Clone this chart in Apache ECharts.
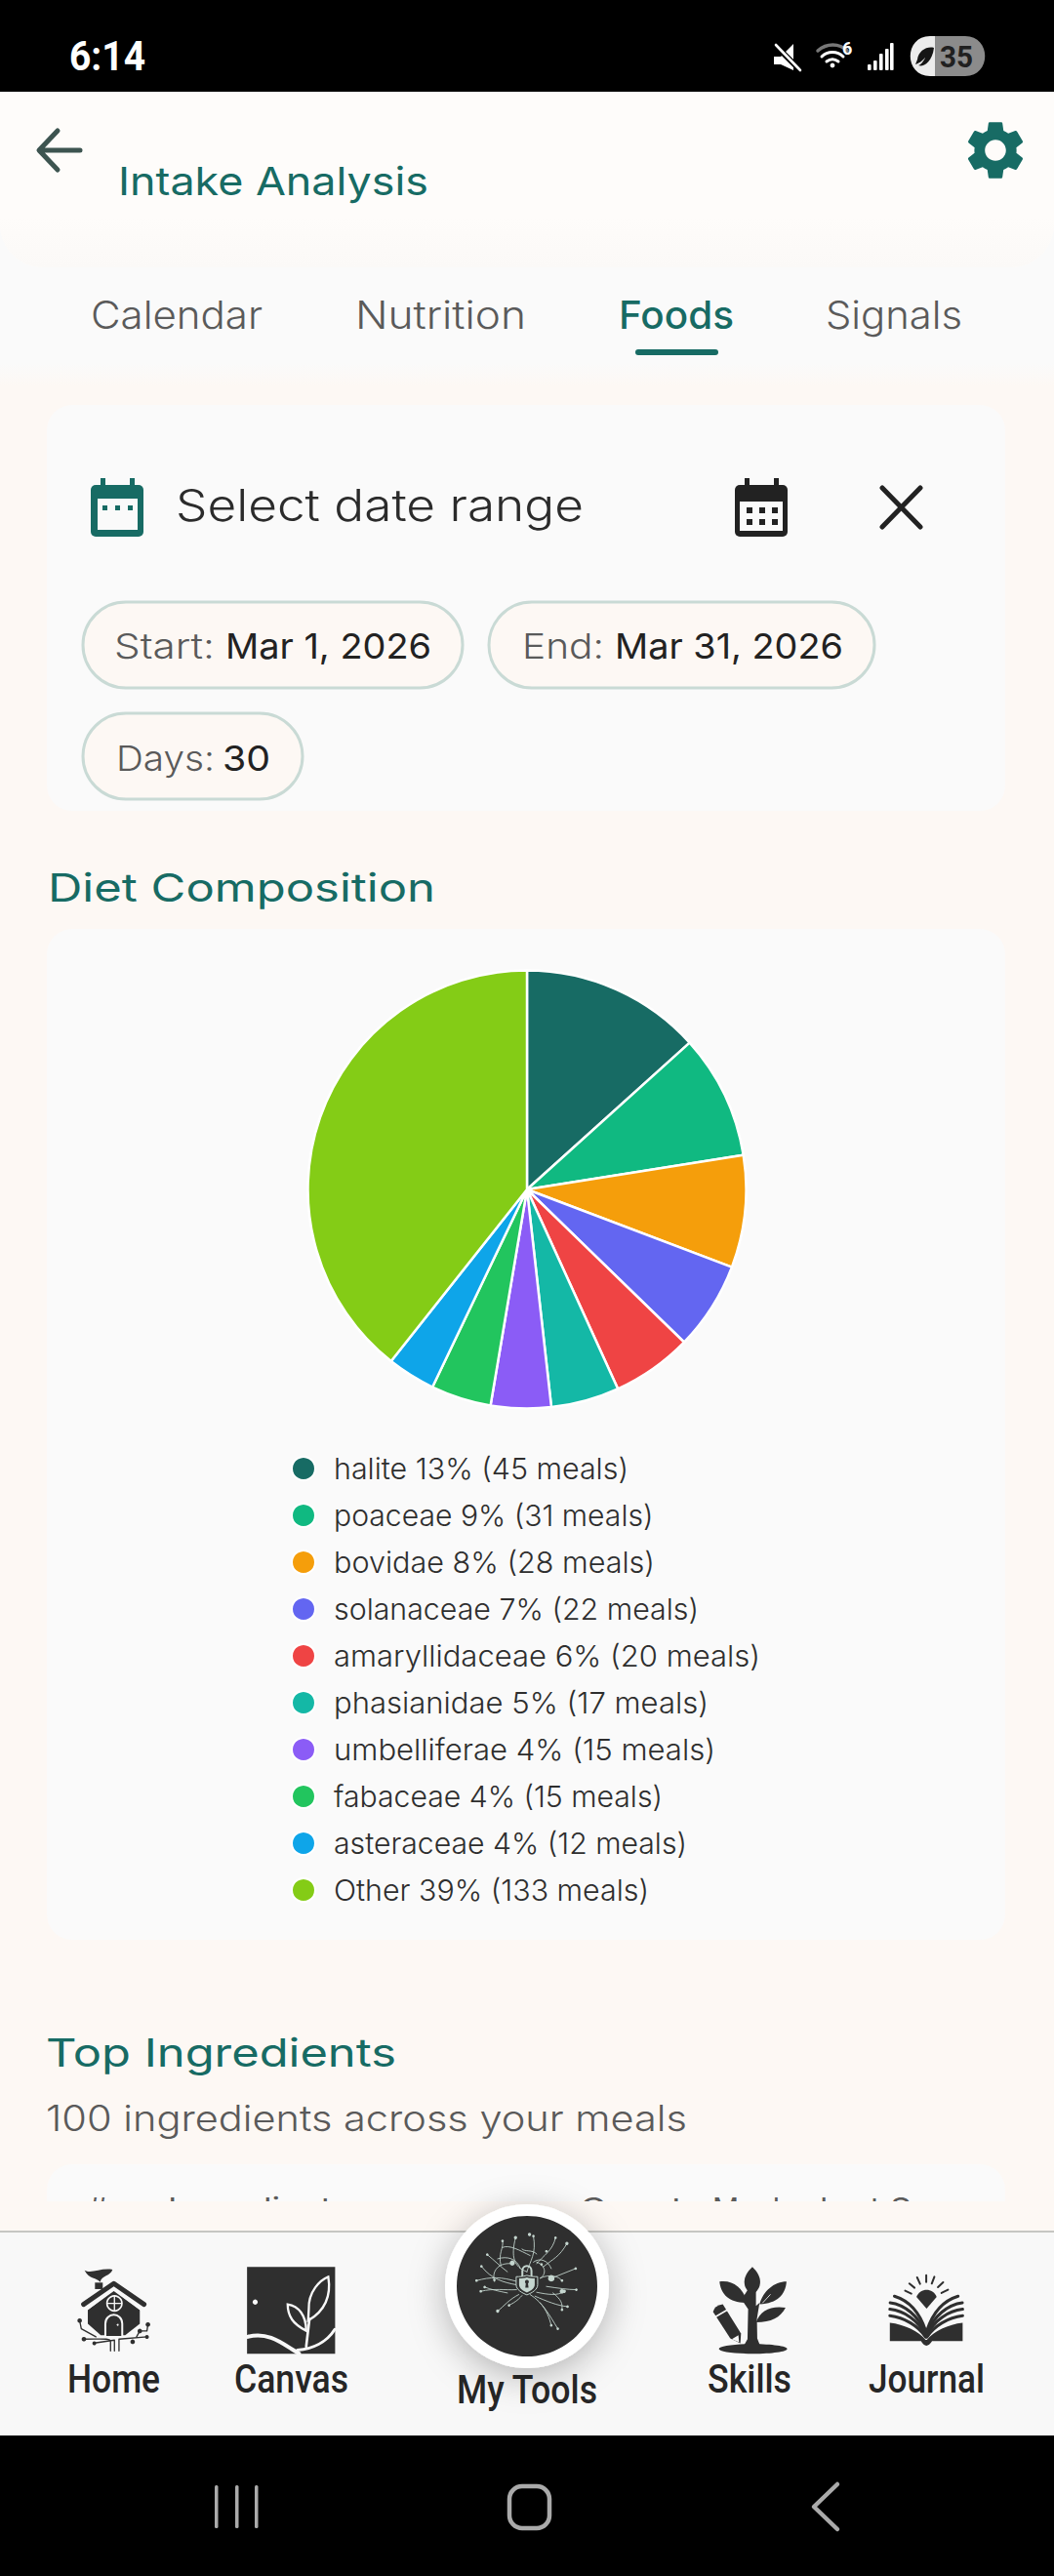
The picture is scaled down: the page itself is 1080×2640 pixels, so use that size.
<!DOCTYPE html>
<html><head><meta charset="utf-8">
<style>html,body{margin:0;padding:0;background:#fdf8f4}#c{width:1080px;height:2640px}</style>
<script src="https://cdn.jsdelivr.net/npm/echarts@6/dist/echarts.min.js"></script>
</head><body><div id="c"></div>
<script>
const categories=['halite','poaceae','bovidae','solanaceae','amaryllidaceae','phasianidae','umbelliferae','fabaceae','asteraceae','Other'];
const meals=[45,31,28,22,20,17,15,15,12,133];
const percents=[13,9,8,7,6,5,4,4,4,39];
const sliceColors=['#176b64','#10b981','#f59e0b','#6366f1','#ef4444','#14b8a6','#8b5cf6','#22c55e','#0ea5e9','#84cc16'];
const legendWidths=[302,327.5,329,374,437,384,391,337,362,323];

const UI='Inter, "Noto Sans", sans-serif', RB='Roboto, sans-serif';
const TEAL='#176b64', DARK='#2f2f2f', INK='#2b2b2b', GRAY='#5a5a5a', CREAM='#fdf8f4', PANEL='#fafafa', MINT='#c5d6cf';
const fit={};
let shapeId=0;
function t(text,x,base,size,color,opt){opt=opt||{};
  if(opt.w)fit[text]=opt.w;
  return {type:'text',z:opt.z||5,silent:true,style:{text,x,y:base-(opt.k||0.36)*size,fill:color,verticalAlign:'middle',align:'left',
    font:(opt.weight||400)+' '+size+'px '+(opt.font||UI)}};
}
function rect(x,y,w,h,fill,r,opt){opt=opt||{};return {type:'rect',z:opt.z||1,silent:true,shape:{x,y,width:w,height:h,r:r||0},style:Object.assign({fill},opt.style||{})};}
function circ(cx,cy,r,fill,opt){opt=opt||{};return {type:'circle',z:opt.z||2,silent:true,shape:{cx,cy,r},style:Object.assign({fill},opt.style||{})};}
function p(d,style,z){const name='uipath'+(shapeId++);echarts.graphic.registerShape(name,echarts.graphic.extendPath(d,{}));return {type:name,z:z||3,silent:true,style:style};}
function sl(d,c,w){return p(d,{fill:'none',stroke:c,lineWidth:w,lineCap:'round',lineJoin:'round'});}
function fl(d,c){return p(d,{fill:c});}
function grp(x,y,s,children,z){children.forEach(c=>{c.z=z||c.z;});return {type:'group',x,y,scaleX:s,scaleY:s,silent:true,children};}

const g=[];
// page backgrounds
g.push(rect(0,94,1080,296,PANEL,0,{z:0}));
g.push(rect(0,372,1080,24,'#fff',0,{z:0,style:{fill:{type:'linear',x:0,y:0,x2:0,y2:1,colorStops:[{offset:0,color:PANEL},{offset:1,color:CREAM}]}}}));
g.push(rect(0,94,1080,180,'#fefcfa',[0,0,44,44],{z:0}));
g.push(rect(0,222,1080,52,'#fff',[0,0,44,44],{z:0,style:{fill:{type:'linear',x:0,y:0,x2:0,y2:1,colorStops:[{offset:0,color:'#fefcfa'},{offset:1,color:'#fbf9f7'}]}}}));
g.push(rect(0,0,1080,94,'#000',0,{z:0}));
// status bar
g.push(t('6:14',71,72,42,'#fff',{font:RB,weight:700,w:78,k:.34}));
g.push(fl('M793 58L800 58L813 45L813 72L800 66L793 66Z','#fff'));
g.push(sl('M795 47L820 72','#000',6)); g.push(sl('M795 46L820 72','#fff',2.6));
g.push(sl('M838 52C847 44 860 44 868 52','#777',3.5));
g.push(sl('M842 58C848 52 858 52 864 58','#fff',3));
g.push(sl('M847 63C851 60 855 60 859 63','#fff',3));
g.push(circ(853,67,2.4,'#fff'));
g.push(t('6',863,56,18,'#fff',{font:RB,weight:700}));
[[889,66],[895,62],[901,55],[907,50],[912,44]].forEach(b=>g.push(rect(b[0],b[1],3.6,72-b[1],'#fff',1,{z:3})));
g.push(p('M958 37L953 37C926 37 926 78 953 78L958 78Z',{fill:'#ececec'}));
g.push(p('M958 37L989 37C1016 37 1016 78 989 78L958 78Z',{fill:'#8b8b8b'}));
g.push(fl('M938 66C944 64 946 61 948 59C947 62 943 67 941 67C945 69 955 65 957 49C950 47 941 52 940 61Z','#151515'));
g.push(t('35',963,69,31,'#202020',{font:RB,weight:700,k:.34,w:34}));
// header
g.push(sl('M82 154L41 154M59 134L40 154L59 174','#3d5450',5));
g.push(t('Intake Analysis',121,200,40,TEAL,{w:318}));
g.push(grp(984,118,3,[fl('M19.14 12.94c.04-.3.06-.61.06-.94 0-.32-.02-.64-.07-.94l2.03-1.58c.18-.14.23-.41.12-.61l-1.92-3.32c-.12-.22-.37-.29-.59-.22l-2.39.96c-.5-.38-1.03-.7-1.62-.94l-.36-2.54c-.04-.24-.24-.41-.48-.41h-3.84c-.24 0-.43.17-.47.41l-.36 2.54c-.59.24-1.13.57-1.62.94l-2.39-.96c-.22-.08-.47 0-.59.22L2.74 8.87c-.12.21-.08.47.12.61l2.03 1.58c-.05.3-.09.63-.09.94s.02.64.07.94l-2.03 1.58c-.18.14-.23.41-.12.61l1.92 3.32c.12.22.37.29.59.22l2.39-.96c.5.38 1.03.7 1.62.94l.36 2.54c.05.24.24.41.48.41h3.84c.24 0 .44-.17.47-.41l.36-2.54c.59-.24 1.13-.56 1.62-.94l2.39.96c.22.08.47 0 .59-.22l1.92-3.32c.12-.22.07-.47-.12-.61l-2.01-1.58zM12 15.6c-1.98 0-3.6-1.62-3.6-3.6s1.62-3.6 3.6-3.6 3.6 1.62 3.6 3.6-1.62 3.6-3.6 3.6z',TEAL)],3));
// tabs
g.push(t('Calendar',93,337,39,GRAY,{w:176,weight:300}));
g.push(t('Nutrition',364,337,39,GRAY,{w:175,weight:300}));
g.push(t('Foods',634,337,39,TEAL,{w:118,weight:450}));
g.push(t('Signals',846,337,39,GRAY,{w:140,weight:300}));
g.push(rect(651,358,85,6,TEAL,3,{z:3}));
// date card
g.push(rect(48,415,982,416,PANEL,26));
g.push(rect(93,497,54,53,TEAL,5,{z:2})); g.push(rect(103,490,5,10,TEAL,0,{z:2})); g.push(rect(133,490,5,10,TEAL,0,{z:2}));
g.push(rect(100,511,41,32,PANEL,0,{z:3}));
[105,118,131].forEach(x=>g.push(rect(x,518,5,5,TEAL,0,{z:4})));
g.push(t('Select date range',180,533.6,45,INK,{w:418,weight:300}));
g.push(rect(753,497,54,53,'#222',5,{z:2})); g.push(rect(763,490,5,10,'#222',0,{z:2})); g.push(rect(793,490,5,10,'#222',0,{z:2}));
g.push(rect(758,514,44,30,PANEL,0,{z:3}));
[765,778,791].forEach(x=>[520,532].forEach(y=>g.push(rect(x,y,6,6,'#222',0,{z:4}))));
g.push(sl('M904 500L943 540M943 500L904 540','#222',5));
const chip={z:2,style:{stroke:'#c9dad5',lineWidth:3}};
g.push(rect(85,617,389,88,CREAM,44,chip)); g.push(rect(501,617,395,88,CREAM,44,chip)); g.push(rect(85,731,225,88,CREAM,44,chip));
g.push(t('Start:',117,675,36,GRAY,{w:103,weight:300}));
g.push(t('Mar 1, 2026',231,675,36,'#222',{weight:420,w:211}));
g.push(t('End:',535,675,36,GRAY,{w:84,weight:300}));
g.push(t('Mar 31, 2026',630,675,36,'#222',{weight:420,w:234}));
g.push(t('Days:',119,790,36,GRAY,{w:101,weight:300}));
g.push(t('30',228,790,36,'#222',{weight:420,w:49}));
// diet section
g.push(t('Diet Composition',49,923.6,40,TEAL,{w:397}));
g.push(rect(48,952,982,1036,PANEL,26));
// top ingredients
g.push(t('Top Ingredients',47,2118,40,TEAL,{w:359}));
g.push(t('100 ingredients across your meals',47,2184,37,GRAY,{w:657,weight:300}));
g.push(rect(48,2218,982,70,PANEL,26));
[['#',90,20],['Ingredient',172,168],['Count',594,106],['Meals',730,85],['Last',840,62],['S',912,22]].forEach(a=>g.push(t(a[0],a[1],2274,30,GRAY,{w:a[2],z:2})));
g.push(rect(0,2256,1080,31,CREAM,0,{z:3}));
// bottom nav
g.push(rect(0,2287,1080,209,'#f8f8f8',0,{z:4}));
g.push(rect(0,2286,1080,2,'#c6c6c3',0,{z:4}));
g.push(rect(0,2496,1080,144,'#000',0,{z:4}));
[220,241,261].forEach(x=>g.push(Object.assign(rect(x,2547,3.5,44,'#aaa',1.5),{z:5})));
g.push(Object.assign(rect(522,2548,41,43,'#000',13,{style:{stroke:'#aaa',lineWidth:4.5}}),{z:5}));
g.push(Object.assign(sl('M858 2546L834 2569L858 2592','#aaa',4.5),{z:5}));
g.push(t('Home',69,2452,40,'#262626',{font:RB,weight:500,w:95,z:6,k:.34}));
g.push(t('Canvas',240,2452,40,'#262626',{font:RB,weight:500,w:117,z:6,k:.34}));
g.push(t('My Tools',468,2463,40,'#262626',{font:RB,weight:500,w:144,z:6,k:.34}));
g.push(t('Skills',725,2452,40,'#262626',{font:RB,weight:500,w:86,z:6,k:.34}));
g.push(t('Journal',890,2452,40,'#262626',{font:RB,weight:500,w:119,z:6,k:.34}));
// home icon
g.push(grp(60,2310,1/3,[
 fl('M80 50C100 62 130 42 166 48C160 68 132 66 128 86C118 72 94 78 80 50Z',DARK),
 rect(112,88,24,20,DARK,0),
 fl('M90 172L170 114L250 172L250 215L205 250L130 250L90 215Z',DARK),
 sl('M77 155L170 91L263 155',DARK,15),
 sl('M86 172L170 108L254 172','#f8f8f8',5),
 {type:'circle',silent:true,shape:{cx:172,cy:152,r:23},style:{fill:DARK,stroke:'#f8f8f8',lineWidth:5}},
 sl('M172 130L172 174M150 152L194 152','#f8f8f8',4),
 p('M144 252L144 215C144 178 196 178 196 215L196 252',{fill:DARK,stroke:'#f8f8f8',lineWidth:6}),
 circ(182,218,3,'#f8f8f8'),
 sl('M160 298L160 270C160 258 130 262 78 262',DARK,4),
 sl('M172 298L172 265L110 274',DARK,4),
 sl('M186 298L186 262L272 255',DARK,4),
 sl('M65 205L70 230L115 255',DARK,4),
 sl('M275 217L272 237L250 237',DARK,4),
 sl('M250 237L240 255',DARK,4),
 circ(65,205,7,DARK),circ(78,262,7,DARK),circ(110,275,6,DARK),circ(228,270,7,DARK),circ(272,255,6,DARK),circ(275,217,7,DARK),circ(250,237,7,DARK)
],6));
// canvas icon
g.push(grp(60,2310,1/3,[
 rect(580,40,271,267,DARK,0),
 circ(605,148,8,'#f8f8f8'),
 p('M770 170C768 115 805 80 830 70C838 120 825 172 768 205Z',{fill:DARK,stroke:'#f8f8f8',lineWidth:7}),
 p('M705 155C738 160 762 188 762 236C722 216 705 192 705 155Z',{fill:DARK,stroke:'#f8f8f8',lineWidth:7}),
 sl('M772 200L762 285','#f8f8f8',8),
 sl('M582 255C650 235 700 285 740 306','#f8f8f8',12),
 sl('M735 296C780 292 825 272 850 232','#f8f8f8',9)
],6));
// skills icon
g.push(grp(710,2310,1/3,[
 {type:'ellipse',silent:true,shape:{cx:185,cy:292,rx:105,ry:15},style:{fill:DARK}},
 fl('M172 105L194 105L194 160L205 150L197 200L198 260L208 285L155 285L168 262L170 170L150 140Z',DARK),
 fl('M183 40C215 70 215 105 183 125C150 105 150 70 183 40Z',DARK),
 fl('M82 85C130 78 160 115 166 150C115 152 85 125 82 85Z',DARK),
 fl('M288 85C250 85 215 115 205 155C260 152 285 125 288 85Z',DARK),
 fl('M285 165C240 158 205 175 195 210C240 210 270 195 285 165Z',DARK),
 sl('M215 150L238 125','#f8f8f8',2.5),
 fl('M62 178Q65 160 92 155L148 245L146 275L115 260Z',DARK),
 sl('M70 193L106 172','#f8f8f8',5),
 fl('M120 262L140 250L142 272Z','#f8f8f8')
],6));
// journal icon
const rays=['M718 65L718 86','M690 72L699 92','M743 70L735 91','M666 91L682 104','M770 87L754 102','M653 113L672 122','M785 110L765 120'];
const pagesL=['M607 150C650 155 695 190 716 244','M606 170C650 175 695 205 716 250','M606 190C650 195 695 222 716 256','M620 130C660 142 695 172 716 236'];
const pagesR=['M829 150C786 155 741 190 720 244','M830 170C786 175 741 205 720 250','M830 190C786 195 741 222 720 256','M816 130C776 142 741 172 720 236'];
g.push(grp(710,2310,1/3,[
 fl('M688 132C700 103 738 103 750 132L719 168Z',DARK),
 ...rays.map(d=>sl(d,DARK,6)),
 ...pagesL.map(d=>sl(d,DARK,9)),
 ...pagesR.map(d=>sl(d,DARK,9)),
 fl('M606 212C650 217 695 238 716 264L720 264C741 238 786 217 830 212L830 268L736 268Q718 296 702 268L606 268Z',DARK)
],6));
// my tools icon
g.push({type:'circle',z:6,silent:true,shape:{cx:540,cy:2343,r:84},style:{fill:'#fff',shadowBlur:36,shadowColor:'rgba(0,0,0,.28)',shadowOffsetY:8}});
g.push({type:'circle',z:6,silent:true,shape:{cx:540,cy:2343,r:72},style:{fill:DARK}});
const neural=['M270 235C230 220 220 190 235 130','M270 235C280 200 300 180 290 125','M300 210C320 185 350 170 358 130','M210 235C190 220 170 200 148 182','M190 215C180 180 200 160 195 140','M320 220C350 195 370 190 393 148','M345 255C370 245 395 235 420 225','M330 280C365 285 395 290 422 290','M238 275C200 268 160 258 130 218','M238 290C200 292 170 285 128 295','M245 305C215 320 200 340 180 356','M255 308C240 325 230 330 215 338','M280 305C320 330 340 370 365 410','M295 310C330 325 365 340 395 342','M310 330C330 350 340 380 345 400','M300 298C335 305 365 310 385 295','M210 300C185 295 160 290 140 282','M240 265C190 250 160 250 115 262','M300 205C330 215 330 245 310 255C340 240 370 250 378 262','M180 195C210 185 240 195 250 225','M170 265C160 230 185 205 225 210','M290 205C310 190 335 200 345 225','M350 300C375 320 380 330 378 352','M255 165C265 175 285 165 300 180','M195 160C215 150 250 170 280 185'];
const dots=[[235,130],[290,125],[358,130],[148,182],[195,140],[393,148],[420,225],[422,290],[130,218],[128,295],[180,356],[215,338],[365,410],[395,342],[345,400],[385,295],[140,282],[115,262],[378,262],[225,208],[345,255],[378,352],[315,212],[170,260],[378,295],[278,120],[330,172]];
g.push(grp(450,2250,1/3,[
 ...neural.map(d=>sl(d,MINT,2.6)),
 ...dots.map((d,i)=>circ(d[0],d[1],i%5==0?5:4,MINT)),
 circ(225,208,8,MINT),circ(345,255,10,MINT),circ(378,295,7,MINT),
 p('M256 250L256 232C256 212 284 212 284 232L284 250',{fill:'none',stroke:MINT,lineWidth:6}),
 p('M270 246C255 250 248 250 237 250L237 275C237 290 255 300 270 306C285 300 303 290 303 275L303 250C292 250 285 250 270 246Z',{fill:DARK,stroke:MINT,lineWidth:3}),
 fl('M270 252C262 254 255 255 246 255L246 275C246 286 258 294 270 299C282 294 294 286 294 275L294 255C285 255 278 254 270 252Z',MINT),
 circ(270,266,6,DARK),fl('M267 268L273 268L275 284L265 284Z',DARK)
],7));

const chart=echarts.init(document.getElementById('c'),null,{renderer:'svg',width:1080,height:2640});
chart.setOption({
 animation:false,
 backgroundColor:CREAM,
 color:sliceColors,
 tooltip:{show:false},
 legend:{orient:'vertical',left:298,top:1490,padding:0,itemWidth:24,itemHeight:24,itemGap:18,icon:'circle',selectedMode:false,
  data:categories,
  formatter:n=>{const i=categories.indexOf(n);return n+' '+percents[i]+'% ('+meals[i]+' meals)';},
  textStyle:{fontFamily:UI,fontSize:30,fontWeight:300,color:'#2e2e2e',lineHeight:24,padding:[0,0,0,14]}},
 series:[{type:'pie',center:[540,1219],radius:[0,224.5],startAngle:90,clockwise:true,silent:true,z:5,
  label:{show:false},labelLine:{show:false},
  itemStyle:{borderColor:'#ffffff',borderWidth:2.5},
  data:categories.map((n,i)=>({name:n,value:meals[i]}))}],
 graphic:{elements:g}
});
categories.forEach((n,i)=>{fit[n+' '+percents[i]+'% ('+meals[i]+' meals)']=legendWidths[i];});
document.querySelectorAll('#c svg text').forEach(el=>{const w=fit[el.textContent];if(w){el.setAttribute('textLength',w);el.setAttribute('lengthAdjust','spacingAndGlyphs');}});
</script></body></html>
